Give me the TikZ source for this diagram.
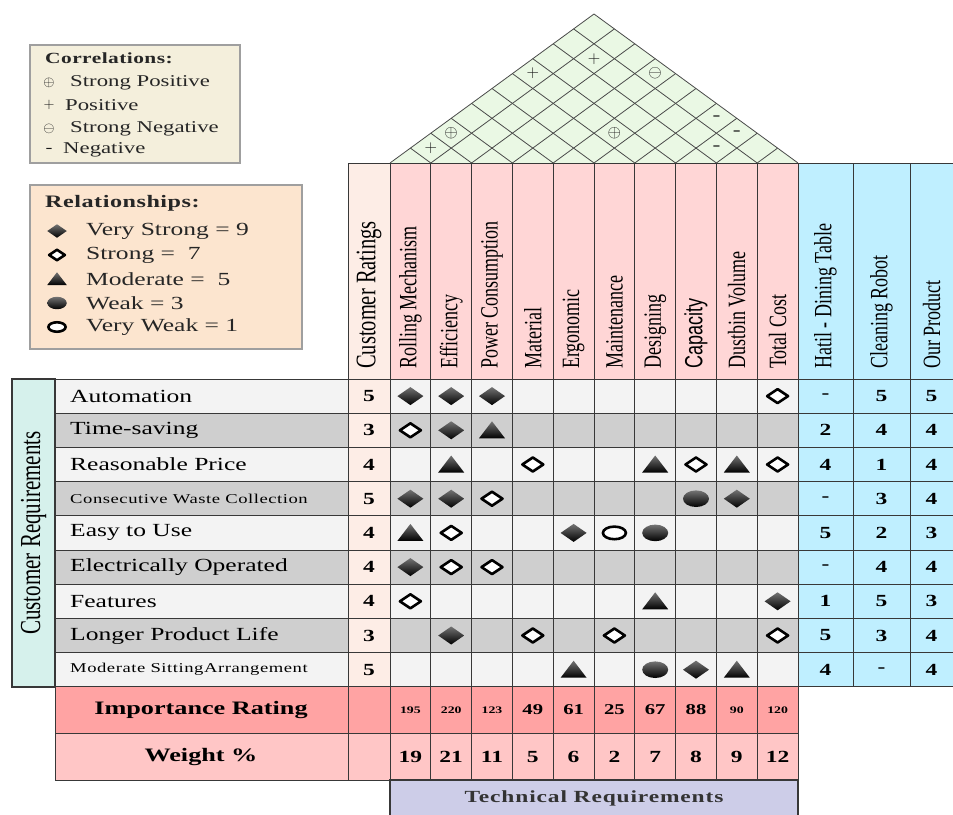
\documentclass[tikz,border=0pt]{standalone}
\usepackage{fontspec}
\usepackage{graphicx}
\setmainfont{Liberation Serif}[FakeStretch=1.38]
\newfontfamily\rotserif{Liberation Serif}
\newfontfamily\rotsans{Liberation Sans}

\definecolor{roofgreen}{HTML}{EAF8E4}
\definecolor{roofline}{HTML}{4A4A4A}
\definecolor{ratingpeach}{HTML}{FDEDE6}
\definecolor{techpink}{HTML}{FFD6D6}
\definecolor{compcyan}{HTML}{BFEFFF}
\definecolor{rowlight}{HTML}{F3F3F3}
\definecolor{rowdark}{HTML}{CFCFCF}
\definecolor{reqteal}{HTML}{D6F1EC}
\definecolor{imprating}{HTML}{FFA3A3}
\definecolor{weightpink}{HTML}{FFC6C6}
\definecolor{techblue}{HTML}{CDCDE8}
\definecolor{corrbeige}{HTML}{F4EFDC}
\definecolor{relpeach}{HTML}{FCE5CF}
\definecolor{gridline}{HTML}{383838}

\newcommand{\setfs}[1]{\fontsize{#1}{#1}\selectfont}
\newcommand{\vtext}[1]{\scalebox{1}[1.38]{#1}}

% relationship marks, drawn round (0,0)
\newcommand{\relVS}{\shade[top color=black!55, bottom color=black] (-13,0) -- (0,-9) -- (13,0) -- (0,9) -- cycle;}
\newcommand{\relS}{\draw[line width=2.6pt, line join=round, fill=white] (-10.5,0) -- (0,-7) -- (10.5,0) -- (0,7) -- cycle;}
\newcommand{\relM}{\shade[top color=black!55, bottom color=black] (-13,8) -- (0,-9) -- (13,8) -- cycle;}
\newcommand{\relW}{\shade[top color=black!55, bottom color=black] (0,0) ellipse [x radius=13, y radius=8.3];}
\newcommand{\relVW}{\draw[line width=2.6pt, fill=white] (0,0) ellipse [x radius=11.5, y radius=6.3];}

\begin{document}
\begin{tikzpicture}[x=1pt, y=-1pt,
    cellline/.style={draw=gridline, line width=0.7pt},
    rowlabel/.style={anchor=west, inner sep=0pt, font=\setfs{18.5}},
    smalllabel/.style={anchor=west, inner sep=0pt, font=\setfs{13.5}\addfontfeatures{LetterSpace=4}},
    headtext/.style={rotate=90, anchor=west, inner sep=0pt, font=\rotserif\setfs{18}},
    numtext/.style={inner sep=0pt, font=\bfseries\setfs{17}},
    legendtext/.style={anchor=west, inner sep=0pt, text=black!85, font=\setfs{16.5}},
    corrmark/.style={inner sep=0pt, text=black!90, font=\setfs{17}}]

  \useasboundingbox (0,0) rectangle (953,814);

  % header cells
  \fill[ratingpeach] (348,163) rectangle (390,379);
  \fill[techpink] (390,163) rectangle (798,379);
  \fill[compcyan] (798,163) rectangle (953,687);

  % rows of customer requirements
  \foreach \reqname/\sty/\rate/\hatil/\rob/\our [count=\r] in {
      Automation/rowlabel/5/-/5/5,
      Time-saving/rowlabel/3/2/4/4,
      Reasonable Price/rowlabel/4/4/1/4,
      Consecutive Waste Collection/smalllabel/5/-/3/4,
      Easy to Use/rowlabel/4/5/2/3,
      Electrically Operated/rowlabel/4/-/4/4,
      Features/rowlabel/4/1/5/3,
      Longer Product Life/rowlabel/3/5/3/4,
      Moderate SittingArrangement/smalllabel/5/4/-/4}
  {
    \pgfmathsetmacro{\yt}{379+(\r-1)*34.2}
    \pgfmathsetmacro{\yc}{\yt+17.1}
    \ifodd\r\relax \def\rowfill{rowlight}\else \def\rowfill{rowdark}\fi
    \fill[\rowfill] (55,\yt) rectangle (348,\yt+34.2);
    \fill[\rowfill] (390,\yt) rectangle (798,\yt+34.2);
    \fill[ratingpeach] (348,\yt) rectangle (390,\yt+34.2);
    \node[\sty] (req-\r) at (70,\yc) {\reqname};
    \node[numtext] (rate-\r) at (369,\yc) {\rate};
    \node[numtext] (hatil-\r) at (825.5,\yc) {\hatil};
    \node[numtext] (robot-\r) at (881.5,\yc) {\rob};
    \node[numtext] (ours-\r) at (931.5,\yc) {\our};
  }

  % importance and weight rows
  \fill[imprating] (55,687) rectangle (798,733);
  \fill[weightpink] (55,733) rectangle (798,780);

  % roof: correlation matrix
  \begin{scope}[shift={(390,163)}, x={(20.4pt,14.9pt)}, y={(20.4pt,-14.9pt)}]
    \fill[roofgreen] (0,0) -- (10,0) -- (10,10) -- cycle;
    \foreach \i in {0,...,10}
      \draw[roofline, line width=0.8pt] (\i,\i) -- (10,\i) (\i,\i) -- (\i,0);
    \foreach \a/\b/\m [count=\k] in {1/2/$+$, 1/3/$\oplus$, 1/7/$+$, 2/9/$+$, 4/10/$\ominus$,
        5/7/$\oplus$, 7/10/{-}, 8/10/{-}, 8/9/{-}}
      \node[corrmark] (corr-\k) at (\b-0.5,\a-0.5) {\m};
  \end{scope}

  % grid lines
  \foreach \k in {0,...,9}
    \draw[cellline] (55,{379+\k*34.2}) -- (953,{379+\k*34.2});
  \draw[cellline] (348,163) -- (953,163);
  \draw[cellline] (55,733) -- (798,733) (55,780) -- (390,780);
  \draw[cellline] (55,379) -- (55,780);
  \draw[cellline] (348,163) -- (348,780);
  \foreach \k in {0,...,10}
    \draw[cellline] ({390+\k*40.8},163) -- ({390+\k*40.8},780);
  \foreach \xv in {853,910}
    \draw[cellline] (\xv,163) -- (\xv,687);

  % side box and bottom box
  \draw[line width=1.2pt, draw=gridline, fill=reqteal] (12,379) rectangle (55,687);
  \node[rotate=90, inner sep=0pt, font=\rotserif\setfs{21}] (custreq) at (33.5,533) {\vtext{Customer Requirements}};
  \draw[line width=1.2pt, draw=gridline, fill=techblue] (390,780) rectangle (798,822);
  \node[inner sep=0pt, text=black!80, font=\bfseries\setfs{17}\addfontfeatures{LetterSpace=5}] (techreq) at (594,798) {Technical Requirements};

  % header texts
  \node[headtext, font=\rotserif\setfs{20.5}] (ratehead) at (369,369) {\vtext{Customer Ratings}};
  \foreach \name/\face [count=\c] in {Rolling Mechanism/rotserif, Efficiency/rotserif,
      Power Consumption/rotserif, Material/rotserif, Ergonomic/rotserif, Maintenance/rotserif,
      Designing/rotserif, Capacity/rotsans, Dustbin Volume/rotserif, Total Cost/rotserif}
    \node[headtext, font=\csname\face\endcsname\setfs{18}] (tech-\c) at ({390+(\c-0.5)*40.8},369) {\vtext{\name}};
  \foreach \name/\xc [count=\k] in {Hatil - Dining Table/825.5, Cleaning Robot/881.5, Our Product/931.5}
    \node[headtext] (comp-\k) at (\xc,369) {\vtext{\name}};

  % relationship marks
  \foreach \r/\c/\s in {1/1/VS, 1/2/VS, 1/3/VS, 1/10/S,
      2/1/S, 2/2/VS, 2/3/M,
      3/2/M, 3/4/S, 3/7/M, 3/8/S, 3/9/M, 3/10/S,
      4/1/VS, 4/2/VS, 4/3/S, 4/8/W, 4/9/VS,
      5/1/M, 5/2/S, 5/5/VS, 5/6/VW, 5/7/W,
      6/1/VS, 6/2/S, 6/3/S,
      7/1/S, 7/7/M, 7/10/VS,
      8/2/VS, 8/4/S, 8/6/S, 8/10/S,
      9/5/M, 9/7/W, 9/8/VS, 9/9/M}
  {
    \begin{scope}[shift={({390+(\c-0.5)*40.8},{379+(\r-0.5)*34.2})}]
      \csname rel\s\endcsname
    \end{scope}
  }

  % importance rating and weight
  \node[inner sep=0pt, font=\bfseries\setfs{19}] (implabel) at (201,710) {Importance Rating};
  \node[inner sep=0pt, font=\bfseries\setfs{19}] (wtlabel) at (201,757) {Weight \%};
  \foreach \v/\w/\sz [count=\c] in {195/19/10, 220/21/10, 123/11/10, 49/5/15, 61/6/15,
      25/2/15, 67/7/15, 88/8/15, 90/9/10, 120/12/10}
  {
    \node[inner sep=0pt, font=\bfseries\setfs{\sz}] (imp-\c) at ({390+(\c-0.5)*40.8},710) {\v};
    \node[numtext] (wt-\c) at ({390+(\c-0.5)*40.8},757) {\w};
  }

  % legend: correlations
  \draw[draw=gray!75, line width=1.3pt, fill=corrbeige] (30,45) rectangle (240,163);
  \node[anchor=west, inner sep=0pt, text=black!85, font=\bfseries\setfs{15.5}\addfontfeatures{LetterSpace=3}] (corrtitle) at (45,58) {Correlations:};
  \foreach \m/\t/\tx/\y [count=\k] in {$\oplus$/Strong Positive/70/83, $+$/Positive/65/105,
      $\ominus$/Strong Negative/70/129, {-}/Negative/63/150}
  {
    \node[corrmark, font=\setfs{15}] (corrsym-\k) at (49,\y) {\m};
    \node[legendtext] (corrtext-\k) at (\tx,\y) {\t};
  }

  % legend: relationships
  \draw[draw=gray!75, line width=1.3pt, fill=relpeach] (30,185) rectangle (302,349);
  \node[anchor=west, inner sep=0pt, text=black!85, font=\bfseries\setfs{17.5}\addfontfeatures{LetterSpace=3}] (reltitle) at (45,203) {Relationships:};
  \foreach \s/\t/\y [count=\k] in {VS/Very Strong = 9/231, S/Strong =~~7/255,
      M/Moderate =~~5/279, W/Weak = 3/303, VW/Very Weak = 1/327}
  {
    \begin{scope}[shift={(57,\y)}, scale=0.75]
      \csname rel\s\endcsname
    \end{scope}
    \node[legendtext, font=\setfs{18.5}] (reltext-\k) at (86,\y) {\t};
  }
\end{tikzpicture}
\end{document}
